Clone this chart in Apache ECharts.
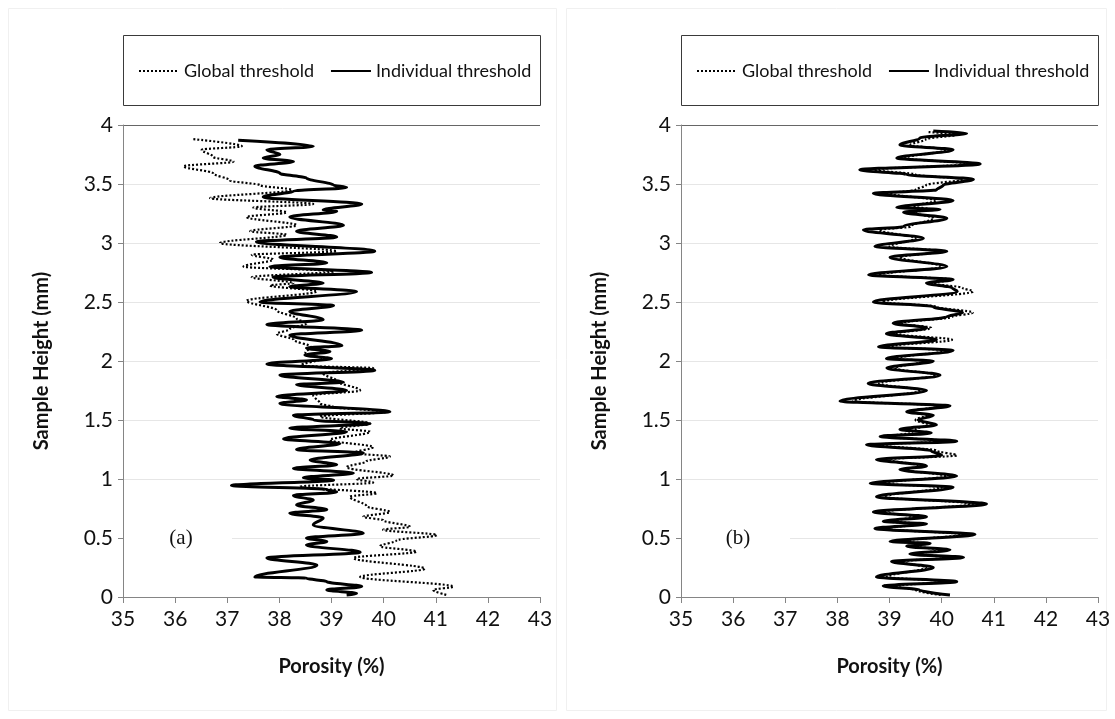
<!DOCTYPE html>
<html>
<head>
<meta charset="utf-8">
<script src="https://cdn.jsdelivr.net/npm/echarts@6/dist/echarts.min.js"></script>
<style>
html,body{margin:0;padding:0;background:#fff;}
#chart{width:1115px;height:719px;}
</style>
</head>
<body>
<div id="chart"></div>
<script>
// [porosity %, sample height mm]
const globalA = [
[36.35,3.88],[37.28,3.82],[36.51,3.79],[36.73,3.73],[37.12,3.69],[36.16,3.65],[36.73,3.59],[37.05,3.53],[37.63,3.49],[38.24,3.45],
[36.67,3.38],[38.65,3.33],[37.50,3.30],[38.14,3.26],[37.37,3.22],[38.33,3.15],[37.44,3.10],[38.14,3.07],[36.86,3.00],[39.10,2.93],
[37.47,2.90],[37.88,2.86],[37.31,2.80],[39.04,2.76],[37.47,2.71],[38.27,2.66],[37.82,2.64],[38.72,2.59],[37.37,2.51],[37.95,2.43],
[38.33,2.36],[38.52,2.32],[38.20,2.27],[37.95,2.23],[38.27,2.18],[38.60,2.12],[38.50,2.07],[38.80,2.02],[38.40,1.96],[39.80,1.94],
[38.84,1.895],[39.10,1.83],[39.55,1.75],[38.65,1.71],[38.78,1.64],[39.04,1.61],[40.06,1.57],[38.78,1.53],[39.74,1.47],[39.16,1.43],
[39.74,1.40],[38.97,1.33],[39.80,1.27],[39.42,1.22],[40.12,1.19],[39.67,1.15],[39.29,1.10],[40.19,1.03],[39.48,1.00],[39.80,0.97],
[38.40,0.935],[39.87,0.88],[39.35,0.85],[39.67,0.77],[40.12,0.72],[39.61,0.68],[39.99,0.65],[40.51,0.595],[39.99,0.57],[41.02,0.525],
[40.25,0.48],[39.93,0.43],[40.63,0.385],[39.42,0.33],[40.79,0.24],[39.55,0.17],[41.34,0.088],[40.95,0.06],[41.21,0.017]
];
const individualA = [
[37.21,3.87],[38.65,3.82],[37.76,3.79],[38.01,3.75],[37.69,3.72],[38.27,3.69],[37.53,3.65],[38.01,3.59],[38.52,3.55],[39.04,3.49],
[39.29,3.47],[38.27,3.44],[37.69,3.39],[39.58,3.33],[38.84,3.28],[39.10,3.27],[38.20,3.22],[39.23,3.15],[38.33,3.10],[39.10,3.05],
[37.56,3.01],[39.83,2.93],[38.01,2.88],[38.91,2.83],[37.82,2.80],[39.77,2.75],[37.88,2.71],[38.84,2.66],[38.20,2.63],[39.48,2.59],
[37.63,2.50],[39.04,2.47],[38.20,2.42],[38.84,2.35],[37.76,2.31],[39.58,2.26],[38.20,2.22],[39.20,2.13],[38.52,2.11],[38.97,2.08],
[38.49,2.05],[39.00,2.02],[37.76,1.975],[39.83,1.92],[38.01,1.88],[39.23,1.82],[38.33,1.80],[39.29,1.75],[37.95,1.70],[38.52,1.67],
[38.01,1.64],[40.12,1.57],[38.27,1.54],[38.65,1.50],[39.74,1.47],[38.20,1.43],[39.29,1.40],[38.08,1.34],[39.16,1.30],[38.33,1.25],
[39.61,1.22],[38.59,1.16],[39.10,1.12],[38.27,1.09],[39.42,1.05],[38.46,1.01],[39.04,0.99],[37.08,0.945],[38.90,0.91],[39.10,0.89],
[38.27,0.86],[38.65,0.82],[38.33,0.78],[38.91,0.74],[38.20,0.71],[38.84,0.67],[38.65,0.61],[39.61,0.54],[38.52,0.50],[38.91,0.47],
[38.52,0.44],[39.55,0.38],[37.76,0.33],[38.72,0.27],[37.53,0.17],[38.52,0.16],[38.91,0.13],[39.58,0.088],[38.91,0.06],[39.48,0.03],
[39.29,0.017]
];
const globalB = [
[39.75,3.94],[40.30,3.92],[39.70,3.88],[39.40,3.83],[40.10,3.79],[39.30,3.72],[40.50,3.67],[38.70,3.62],[39.50,3.58],[40.40,3.54],
[39.70,3.49],[39.50,3.45],[39.00,3.42],[39.90,3.36],[39.45,3.31],[39.80,3.285],[39.45,3.26],[39.85,3.21],[39.40,3.14],[38.80,3.11],
[39.50,3.04],[39.00,2.97],[40.00,2.93],[39.20,2.88],[40.00,2.80],[38.80,2.73],[40.20,2.69],[39.80,2.66],[40.40,2.62],[40.60,2.59],
[38.85,2.50],[39.90,2.46],[40.60,2.41],[40.20,2.375],[39.20,2.32],[39.80,2.28],[39.10,2.23],[40.20,2.18],[38.95,2.12],[40.10,2.09],
[39.10,2.02],[39.70,2.00],[39.10,1.94],[39.90,1.88],[38.80,1.81],[39.60,1.75],[38.30,1.66],[40.00,1.62],[39.40,1.57],[39.70,1.54],
[39.50,1.50],[39.75,1.46],[39.50,1.42],[39.40,1.39],[38.95,1.36],[40.10,1.32],[38.75,1.29],[39.90,1.24],[40.29,1.20],[38.95,1.166],
[39.60,1.11],[39.30,1.08],[40.10,1.025],[38.85,0.963],[40.00,0.93],[38.90,0.85],[40.60,0.788],[38.85,0.72],[39.50,0.68],[39.00,0.64],
[39.60,0.62],[38.90,0.58],[40.40,0.53],[39.20,0.47],[39.60,0.455],[39.45,0.43],[40.00,0.40],[39.50,0.364],[40.20,0.336],[39.20,0.30],
[39.70,0.25],[38.95,0.17],[40.10,0.13],[39.05,0.093],[39.50,0.06],[40.00,0.016]
];
const individualB = [
[39.84,3.95],[40.48,3.93],[39.58,3.89],[39.20,3.83],[40.22,3.79],[39.14,3.72],[40.74,3.67],[38.43,3.62],[39.33,3.58],[40.61,3.54],
[40.03,3.49],[39.90,3.45],[38.69,3.42],[40.22,3.36],[39.14,3.30],[39.97,3.285],[39.27,3.26],[40.10,3.21],[39.27,3.14],[38.50,3.11],
[39.65,3.04],[38.72,2.97],[40.10,2.93],[39.01,2.88],[40.10,2.80],[38.60,2.73],[40.22,2.69],[39.71,2.66],[40.20,2.62],[40.30,2.59],
[38.69,2.50],[39.84,2.46],[40.40,2.41],[40.10,2.375],[39.07,2.32],[39.71,2.28],[38.94,2.23],[39.90,2.18],[38.79,2.12],[40.22,2.09],
[38.94,2.02],[39.84,2.00],[38.95,1.94],[39.97,1.88],[38.59,1.81],[39.71,1.75],[38.05,1.66],[40.16,1.62],[39.33,1.57],[39.84,1.54],
[39.55,1.50],[39.90,1.46],[39.20,1.42],[39.80,1.39],[38.82,1.36],[40.29,1.32],[38.56,1.29],[39.80,1.24],[40.00,1.20],[38.75,1.166],
[39.71,1.11],[39.20,1.08],[40.29,1.025],[38.63,0.963],[40.22,0.93],[38.75,0.85],[40.86,0.788],[38.69,0.72],[39.71,0.68],[38.88,0.64],
[39.71,0.62],[38.72,0.58],[40.64,0.53],[39.01,0.47],[39.78,0.455],[39.33,0.43],[40.16,0.40],[39.39,0.364],[40.42,0.336],[39.04,0.30],
[39.84,0.25],[38.75,0.17],[40.29,0.13],[38.88,0.093],[39.58,0.06],[40.16,0.016]
];
const seriesNames = ['Global threshold', 'Individual threshold'];
const panelLabels = ['(a)', '(b)'];
const xTitle = 'Porosity (%)';
const yTitle = 'Sample Height (mm)';

const FONT = 'Lato, "Open Sans", sans-serif';
const chart = echarts.init(document.getElementById('chart'), null, {renderer: 'canvas'});

const grids = [
  {left: 123, right: 575, top: 125, bottom: 122},
  {left: 681, right: 17, top: 125, bottom: 122}
];
const splitColors = ['#e6e6e6','#e6e6e6','#e6e6e6','#e6e6e6','#e6e6e6','#e6e6e6','#e6e6e6','#e6e6e6','#666666'];

function xAx(i) {
  return {
    type: 'value', gridIndex: i, min: 35, max: 43, interval: 1,
    axisLine: {show: true, onZero: false, lineStyle: {color: '#858585', width: 1}},
    axisTick: {show: true, length: 6, lineStyle: {color: '#858585'}},
    axisLabel: {fontSize: 21, color: '#111', fontFamily: FONT, margin: 12},
    splitLine: {show: false},
    name: xTitle, nameLocation: 'middle', nameGap: 60,
    nameTextStyle: {fontSize: 20, fontWeight: 'bold', color: '#111', fontFamily: FONT}
  };
}
function yAx(i) {
  return {
    type: 'value', gridIndex: i, min: 0, max: 4, interval: 0.5,
    axisLine: {show: true, onZero: false, lineStyle: {color: '#858585', width: 1}},
    axisTick: {show: true, length: 5, lineStyle: {color: '#858585'}},
    axisLabel: {fontSize: 21, color: '#111', fontFamily: FONT, margin: 10},
    splitLine: {show: true, lineStyle: {color: splitColors, width: 1}},
    name: yTitle, nameLocation: 'middle', nameGap: 71, nameRotate: 90,
    nameTextStyle: {fontSize: 20, fontWeight: 'bold', color: '#111', fontFamily: FONT}
  };
}
function mkSeries(name, data, idx, dotted) {
  return {
    name: name, type: 'line', xAxisIndex: idx, yAxisIndex: idx, data: data,
    symbol: 'none', showSymbol: false, smooth: 0.35, smoothMonotone: 'y',
    lineStyle: dotted ? {color: '#000', width: 2.2, type: [2, 2]} : {color: '#000', width: 3},
    itemStyle: {color: '#000'},
    z: dotted ? 2 : 3, animation: false
  };
}
function legend(x) {
  return {
    left: x, top: 57, orient: 'horizontal', data: seriesNames,
    itemWidth: 40, itemHeight: 14, itemGap: 16, selectedMode: false,
    itemStyle: {opacity: 0},
    textStyle: {fontSize: 18, color: '#111', fontFamily: FONT}
  };
}

chart.setOption({
  backgroundColor: '#fff',
  animation: false,
  grid: grids,
  xAxis: [xAx(0), xAx(1)],
  yAxis: [yAx(0), yAx(1)],
  legend: [legend(133), legend(691)],
  series: [
    mkSeries(seriesNames[0], globalA, 0, true),
    mkSeries(seriesNames[1], individualA, 0, false),
    mkSeries(seriesNames[0], globalB, 1, true),
    mkSeries(seriesNames[1], individualB, 1, false)
  ],
  graphic: [
    {type: 'rect', shape: {x: 8.5, y: 8.5, width: 548, height: 702}, style: {fill: 'none', stroke: '#f0f0f0', lineWidth: 1}, z: 0},
    {type: 'rect', shape: {x: 566.5, y: 8.5, width: 540, height: 702}, style: {fill: 'none', stroke: '#f0f0f0', lineWidth: 1}, z: 0},
    {type: 'rect', shape: {x: 123.5, y: 35.5, width: 417, height: 70}, style: {fill: 'none', stroke: '#3a3a3a', lineWidth: 1}, z: 1},
    {type: 'rect', shape: {x: 681.5, y: 35.5, width: 417, height: 70}, style: {fill: 'none', stroke: '#3a3a3a', lineWidth: 1}, z: 1},
    {type: 'rect', shape: {x: 124, y: 522, width: 108, height: 32}, style: {fill: '#fff'}, z: 1},
    {type: 'rect', shape: {x: 682, y: 522, width: 108, height: 32}, style: {fill: '#fff'}, z: 1},
    {type: 'text', x: 181, y: 538, style: {text: panelLabels[0], font: '21px "Liberation Serif", serif', fill: '#111', textAlign: 'center', textVerticalAlign: 'middle'}, z: 2},
    {type: 'text', x: 738, y: 538, style: {text: panelLabels[1], font: '21px "Liberation Serif", serif', fill: '#111', textAlign: 'center', textVerticalAlign: 'middle'}, z: 2}
  ]
});
</script>
</body>
</html>
